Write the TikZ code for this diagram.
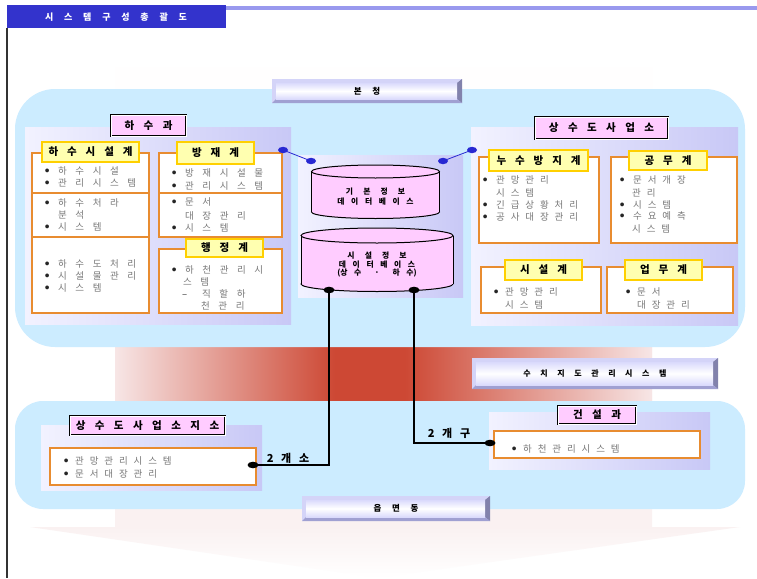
\documentclass[tikz,border=0pt]{standalone}
\usepackage{fontspec}
\newfontfamily\kr{Noto Sans CJK KR}
\definecolor{hdrblue}{RGB}{51,51,204}
\definecolor{hdrline}{RGB}{153,153,238}
\definecolor{panelblue}{RGB}{204,236,255}
\definecolor{lavL}{RGB}{242,242,255}
\definecolor{lavR}{RGB}{200,200,246}
\definecolor{pinkfill}{RGB}{255,204,255}
\definecolor{ylwfill}{RGB}{255,255,176}
\definecolor{ylwdraw}{RGB}{255,208,0}
\definecolor{orng}{RGB}{232,140,48}
\definecolor{gtxt}{RGB}{120,120,120}
\definecolor{btnbase}{RGB}{212,212,248}
\definecolor{btndark}{RGB}{130,130,172}
\definecolor{btnbot}{RGB}{160,160,210}
\definecolor{btnface}{RGB}{218,218,252}
\definecolor{dotblue}{RGB}{40,40,210}
\definecolor{redc}{RGB}{205,72,52}
\definecolor{pinkpale}{RGB}{247,230,230}
\definecolor{arrowpink}{RGB}{250,241,241}
\newcommand\wsp[1]{\spaceskip=#1\relax}
\newcommand\bdot{\raisebox{1.8pt}{\textcolor{black!85}{\fontsize{4.2}{5}\selectfont ●}}}
\newcommand\bu{\makebox[13pt][l]{\bdot}}
\newcommand\bus{\makebox[11pt][l]{\bdot}}
\newcommand\da{\makebox[20pt][l]{\textcolor{black!80}{–}}}
\newcommand\bevbtn[6]{%
 \fill[btnbase] (#2,#3) rectangle (#4,#5);
 \fill[btndark] (#4,#3) -- (#4,#5) -- ({#4-5},{#5-4}) -- ({#4-5},{#3+4}) -- cycle;
 \fill[btnbot] (#2,#5) -- (#4,#5) -- ({#4-5},{#5-4}) -- ({#2+4},{#5-4}) -- cycle;
 \shade[top color=btnface, bottom color=btnface, middle color=white] ({#2+4},{#3+4}) rectangle ({#4-5},{#5-4});
 \node[btntxt] (#1) at ({(#2+#4)/2},{(#3+#5)/2}) {#6};}
\newcommand\dbcyl[5]{%
 \fill[pinkfill] ({#1-#2},#3) rectangle ({#1+#2},#4);
 \filldraw[fill=pinkfill, draw=black, line width=1pt] (#1,#4) ellipse [x radius=#2, y radius=#5];
 \fill[pinkfill] ({#1-#2},#3) rectangle ({#1+#2},#4);
 \draw[line width=1pt] ({#1-#2},#3) -- ({#1-#2},#4) ({#1+#2},#3) -- ({#1+#2},#4);
 \filldraw[fill=pinkfill, draw=black, line width=1pt] (#1,#3) ellipse [x radius=#2, y radius=#5];}
\begin{document}
\begin{tikzpicture}[x=1pt,y=-1pt,
  gt/.style={anchor=west, inner sep=0pt, text=gtxt, font={\kr\fontsize{9.5}{11}\selectfont\wsp{0.9em}}},
  gtn/.style={anchor=west, inner sep=0pt, text=gtxt, font={\kr\fontsize{9.5}{11}\selectfont\wsp{0.62em}}},
  ylab/.style={draw=ylwdraw, fill=ylwfill, line width=1.3pt, inner sep=0pt, font={\kr\bfseries\fontsize{10.5}{12}\selectfont\wsp{0.85em}}},
  plab/.style={draw=black, double=white, double distance=0.7pt, line width=0.8pt, fill=pinkfill, inner sep=0pt, font={\kr\bfseries\fontsize{10.5}{12}\selectfont\wsp{0.9em}}},
  obox/.style={draw=orng, line width=1.2pt, fill=white},
  lav/.style={left color=lavL, right color=lavR},
  btntxt/.style={inner sep=0pt, font={\kr\bfseries\fontsize{8.5}{10}\selectfont\wsp{1.25em}}},
  hdrtxt/.style={inner sep=0pt, text=white, font={\kr\bfseries\fontsize{9}{10}\selectfont\wsp{1.2em}}},
  dbtxt/.style={inner sep=0pt, align=center, font={\kr\bfseries\fontsize{7.8}{10}\selectfont\wsp{0.85em}}},
  cnt/.style={inner sep=0pt, font={\kr\bfseries\fontsize{11}{12}\selectfont\wsp{0.7em}}},
  bline/.style={draw=dotblue, line width=0.8pt},
  kline/.style={draw=black, line width=1.3pt}]
\useasboundingbox (0,0) rectangle (757,578);
\fill[white] (0,0) rectangle (757,578);
% background arrow
\shade[top color=white, bottom color=arrowpink] (115,50) rectangle (652,527);
\shade[top color=arrowpink, bottom color=white] (30,527) -- (740,527) -- (378,578) -- cycle;
% red band
\shade[left color=pinkpale, right color=redc] (115,330) rectangle (335,415);
\fill[redc] (335,330) rectangle (405,415);
\shade[left color=redc, right color=pinkpale] (405,330) rectangle (652,415);
% blue panels
\fill[panelblue, rounded corners=40] (15,89) rectangle (745,347);
\fill[panelblue, rounded corners=28] (15,401) rectangle (745,509);
% header
\fill[hdrline] (226,6) rectangle (757,10.5);
\fill[hdrblue] (7,5) rectangle (226,28);
\node[hdrtxt] (hdr) at (116,17) {시 스 템 구 성 총 괄 도};
\draw[black!80, line width=2pt] (7,28) -- (7,578);
% buttons
\bevbtn{bonchung}{272}{79}{462}{103}{본 청}
\bevbtn{suchi}{472}{358}{718}{389}{\fontsize{8}{10}\selectfont\wsp{1.2em}수 치 지 도 관 리 시 스 템}
\bevbtn{eup}{302}{496}{490}{521}{읍 면 동}
% lavender sub panels
\shade[lav] (25,127) rectangle (291,324);
\shade[lav] (471,127) rectangle (738,325);
\shade[lav] (298,155) rectangle (463,297);
\shade[lav] (41,425) rectangle (262,490);
\shade[lav] (489,412) rectangle (710,469);
% orange boxes
\draw[obox] (32,153) rectangle (149,313);
\draw[orng, line width=1.2pt] (32,193) -- (149,193) (32,237) -- (149,237);
\draw[obox] (159,153) rectangle (282,237);
\draw[orng, line width=1.2pt] (159,193) -- (282,193);
\draw[obox] (159,249) rectangle (282,313);
\draw[obox] (479,157) rectangle (599,243);
\draw[obox] (611,157) rectangle (737,243);
\draw[obox] (481,267) rectangle (601,313);
\draw[obox] (607,267) rectangle (733,313);
\draw[obox] (50,448) rectangle (256,485);
\draw[obox] (494,431) rectangle (700,458);
% pink labels
\node[plab, minimum width=75, minimum height=21] (hasugwa) at (148.5,125.5) {하 수 과};
\node[plab, minimum width=133, minimum height=22] (sangsu) at (601.5,128) {상 수 도 사 업 소};
\node[plab, minimum width=155, minimum height=19] (jiso) at (147.5,425.5) {상 수 도 사 업 소 지 소};
\node[plab, minimum width=78, minimum height=18] (geonseol) at (597,415) {건 설 과};
% yellow labels
\node[ylab, minimum width=97, minimum height=20] (y1) at (90.5,152) {하 수 시 설 계};
\node[ylab, minimum width=77, minimum height=22] (y2) at (215.5,153) {방 재 계};
\node[ylab, minimum width=77, minimum height=18] (y3) at (224.5,248) {행 정 계};
\node[ylab, minimum width=99, minimum height=21] (y4) at (538.5,160.5) {누 수 방 지 계};
\node[ylab, minimum width=78, minimum height=19] (y5) at (668,160.5) {공 무 계};
\node[ylab, minimum width=77, minimum height=20] (y6) at (543.5,270) {시 설 계};
\node[ylab, minimum width=77, minimum height=20] (y7) at (663.5,270) {업 무 계};
% left texts
\node[gt] (a1) at (45,171) {\bu 하 수 시 설};
\node[gt] (a2) at (45,183) {\bu 관 리 시 스 템};
\node[gt] (a3) at (45,203) {\bu 하 수 처 라};
\node[gt] (a4) at (58,215) {분 석};
\node[gt] (a5) at (45,227) {\bu 시 스 템};
\node[gt] (a6) at (45,264) {\bu 하 수 도 처 리};
\node[gt] (a7) at (45,276) {\bu 시 설 물 관 리};
\node[gt] (a8) at (45,288) {\bu 시 스 템};
\node[gt] (b1) at (172,173) {\bu 방 재 시 설 물};
\node[gt] (b2) at (172,186) {\bu 관 리 시 스 템};
\node[gt] (b3) at (172,202) {\bu 문 서};
\node[gt] (b4) at (185,216) {대 장 관 리};
\node[gt] (b5) at (172,228) {\bu 시 스 템};
\node[gt] (c1) at (172,270) {\bu 하 천 관 리 시};
\node[gt] (c2) at (183,282) {스 템};
\node[gt] (c3) at (182,294) {\da 직 할 하};
\node[gt] (c4) at (201,306) {천 관 리};
% right texts
\node[gtn] (d1) at (483,180) {\bu 관 망 관 리};
\node[gtn] (d2) at (496,193) {시 스 템};
\node[gtn] (d3) at (483,205) {\bu 긴 급 상 황 처 리};
\node[gtn] (d4) at (483,217) {\bu 공 사 대 장 관 리};
\node[gtn] (e1) at (620,180) {\bu 문 서 개 장};
\node[gtn] (e2) at (632,193) {관 리};
\node[gtn] (e3) at (620,205) {\bu 시 스 템};
\node[gtn] (e4) at (620,216) {\bu 수 요 예 측};
\node[gtn] (e5) at (632,229) {시 스 템};
\node[gtn] (f1) at (494,292) {\bus 관 망 관 리};
\node[gtn] (f2) at (505,305) {시 스 템};
\node[gtn] (g1) at (626,292) {\bus 문 서};
\node[gtn] (g2) at (637,305) {대 장 관 리};
% bottom texts
\node[gtn] (h1) at (64,461) {\bus 관 망 관 리 시 스 템};
\node[gtn] (h2) at (64,474) {\bus 문 서 대 장 관 리};
\node[gtn] (i1) at (512,449) {\bus 하 천 관 리 시 스 템};
% databases
\dbcyl{375.5}{64}{171.5}{212}{6.5}
\dbcyl{377}{76}{235.5}{284}{7.5}
\node[dbtxt] (db1) at (375.5,197) {{\wsp{1.3em}기 본 정 보}\\데 이 터 베 이 스};
\node[dbtxt, font={\kr\bfseries\fontsize{7.8}{8.7}\selectfont\wsp{0.85em}}] (db2) at (377,264.5) {{\wsp{1.3em}시 설 정 보}\\데 이 터 베 이 스\\(상 수 \ · \ 하 수)};
% blue connectors
\coordinate (bl1) at (283,150);
\coordinate (bl2) at (311,161);
\coordinate (br1) at (472,150);
\coordinate (br2) at (443,161);
\draw[bline] (bl1) -- (bl2);
\draw[bline] (br1) -- (br2);
\foreach \p in {bl1,bl2,br1,br2} \fill[dotblue] (\p) ellipse [x radius=5, y radius=3.2];
% black connectors
\coordinate (k1) at (329,290);
\coordinate (k1e) at (253,465);
\coordinate (k2) at (414,290);
\coordinate (k2e) at (490,443);
\draw[kline] (k1) |- (k1e);
\draw[kline] (k2) |- (k2e);
\foreach \p in {k1,k2,k1e,k2e} \fill[black] (\p) ellipse [x radius=5.5, y radius=3.3];
\node[cnt] (n1) at (288,458) {2 개 소};
\node[cnt] (n2) at (449,433) {2 개 구};
\end{tikzpicture}
\end{document}
